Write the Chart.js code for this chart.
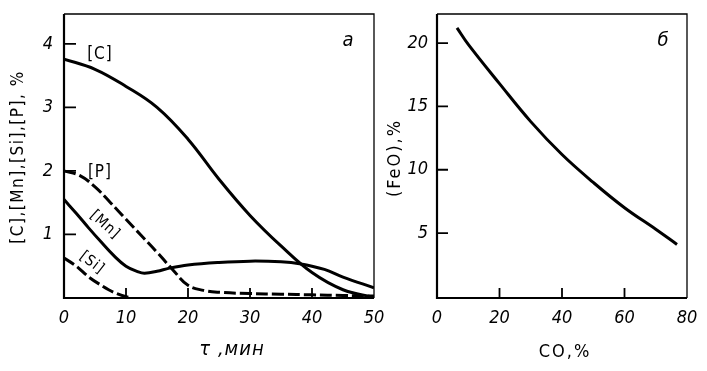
<!DOCTYPE html>
<html><head><meta charset="utf-8">
<script src="https://cdn.jsdelivr.net/npm/chart.js@4.4.0/dist/chart.umd.min.js"></script>
<style>
html,body{margin:0;padding:0;background:#fff;width:707px;height:371px;overflow:hidden}
#a{position:absolute;left:0;top:0;width:385px;height:371px}
#b{position:absolute;left:385px;top:0;width:322px;height:371px}
</style></head><body>
<div id="a"><canvas id="ca"></canvas></div>
<div id="b"><canvas id="cb"></canvas></div>
<script>
// ---- data, panel a ----
const timeTicks = [0, 10, 20, 30, 40, 50];
const leftYTicks = [1, 2, 3, 4];
const cTime = [0, 5, 10, 15, 20, 25, 30, 35, 40, 45, 50];
const cVals = [3.76, 3.6, 3.33, 3.0, 2.5, 1.87, 1.3, 0.82, 0.4, 0.13, 0.01];
const mnTime = [0, 2.5, 5, 7.5, 10, 12.5, 15, 17.5, 20, 22.5, 25, 30, 35, 40, 45, 50];
const mnVals = [2.0, 1.93, 1.75, 1.5, 1.24, 0.98, 0.72, 0.45, 0.2, 0.12, 0.09, 0.07, 0.06, 0.05, 0.04, 0.03];
const pTime = [0, 2, 4, 6, 8, 10, 12, 13, 15, 17, 20, 25, 30, 35, 38, 42, 45, 50];
const pVals = [1.55, 1.33, 1.1, 0.88, 0.67, 0.5, 0.41, 0.39, 0.42, 0.47, 0.52, 0.56, 0.58, 0.57, 0.54, 0.45, 0.33, 0.16];
const siTime = [0, 2, 4, 6, 8, 10, 11];
const siVals = [0.63, 0.5, 0.33, 0.2, 0.09, 0.02, 0];
// ---- data, panel б ----
const coTicks = [0, 20, 40, 60, 80];
const feoTicks = [5, 10, 15, 20];
const coVals = [6.4, 10, 20, 30, 40, 50, 60, 70, 76.8];
const feoVals = [21.2, 19.9, 16.8, 13.8, 11.2, 9.0, 7.0, 5.3, 4.1];

const pts = (xs, ys) => xs.map((x, i) => ({x: x, y: ys[i]}));
const LBL = "'DejaVu Sans Condensed','DejaVu Sans',sans-serif";
const TICKFONT = {family: LBL, size: 18, style: 'italic'};

function lineDs(xs, ys, dashed, mono) {
  const d = {data: pts(xs, ys), borderColor: '#000', borderWidth: 3, pointRadius: 0,
    fill: false, tension: 0.4, borderDash: dashed ? [12, 4] : [],
    borderCapStyle: 'butt'};
  if (mono) d.cubicInterpolationMode = 'monotone';
  return d;
}

function drawText(ctx, n, px, py) {
  ctx.save();
  ctx.translate(px, py);
  ctx.rotate((n.rot || 0) * Math.PI / 180);
  ctx.font = n.font;
  if ('letterSpacing' in ctx) ctx.letterSpacing = (n.ls || 0) + 'px';
  ctx.textAlign = 'center'; ctx.textBaseline = 'middle';
  ctx.fillText(n.t, 0, 0);
  ctx.restore();
}

function framePlugin(cfg) {
  return {
    id: 'frame',
    afterDraw(chart) {
      const ctx = chart.ctx, a = chart.chartArea, xs = chart.scales.x, ys = chart.scales.y;
      ctx.save();
      ctx.strokeStyle = '#000';
      ctx.lineWidth = 1.3;
      ctx.beginPath();
      ctx.moveTo(a.left, a.top); ctx.lineTo(a.right, a.top); ctx.lineTo(a.right, a.bottom);
      ctx.stroke();
      ctx.lineWidth = 2.2;
      ctx.beginPath();
      ctx.moveTo(a.left, a.top); ctx.lineTo(a.left, a.bottom); ctx.lineTo(a.right, a.bottom);
      ctx.stroke();
      ctx.lineWidth = 1.8;
      ctx.beginPath();
      cfg.xTicks.forEach(v => { const p = xs.getPixelForValue(v); ctx.moveTo(p, a.bottom); ctx.lineTo(p, a.bottom - 10); });
      cfg.yTicks.forEach(v => { const p = ys.getPixelForValue(v); ctx.moveTo(a.left, p); ctx.lineTo(a.left + cfg.yLen, p); });
      ctx.stroke();
      ctx.fillStyle = '#000';
      cfg.notes.forEach(n => drawText(ctx, n, xs.getPixelForValue(n.x), ys.getPixelForValue(n.y)));
      cfg.titles.forEach(n => drawText(ctx, n, n.px, n.py));
      ctx.restore();
    }
  };
}

function makeOpts(xMin, xMax, yMin, yMax, xT, yT, yW, padR, yPad) {
  return {
    responsive: true, maintainAspectRatio: false, animation: false,
    layout: {padding: {top: 14, right: padR, left: 0, bottom: 0}},
    plugins: {legend: {display: false}, tooltip: {enabled: false}},
    scales: {
      x: {type: 'linear', min: xMin, max: xMax,
        afterBuildTicks: s => { s.ticks = xT.map(v => ({value: v})); },
        afterFit: s => { s.height = 73; s.paddingLeft = 0; s.paddingRight = 0; },
        grid: {display: false, drawTicks: false}, border: {display: false},
        ticks: {color: '#000', font: TICKFONT, padding: 10, maxRotation: 0, autoSkip: false}},
      y: {type: 'linear', min: yMin, max: yMax,
        afterBuildTicks: s => { s.ticks = yT.map(v => ({value: v})); },
        afterFit: s => { s.width = yW; s.paddingTop = 0; s.paddingBottom = 0; },
        grid: {display: false, drawTicks: false}, border: {display: false},
        ticks: {color: '#000', font: TICKFONT, padding: yPad, autoSkip: false}}
    }
  };
}

new Chart(document.getElementById('ca'), {
  type: 'line',
  data: {datasets: [
    lineDs(cTime, cVals, false, false),
    lineDs(mnTime, mnVals, true, false),
    lineDs(pTime, pVals, false, false),
    lineDs(siTime, siVals, true, true)
  ]},
  options: makeOpts(0, 50, 0, 4.47, timeTicks, leftYTicks, 64, 11, 11),
  plugins: [framePlugin({
    xTicks: [10, 20, 30, 40], yTicks: leftYTicks, yLen: 12,
    notes: [
      {t: '[C]', x: 5.8, y: 3.83, font: '17px ' + LBL, ls: 1},
      {t: '[P]', x: 5.8, y: 1.98, font: '17px ' + LBL, ls: 1},
      {t: '[Mn]', x: 6.6, y: 1.15, rot: 42, font: '15px ' + LBL, ls: 1},
      {t: '[Si]', x: 4.5, y: 0.55, rot: 38, font: '15px ' + LBL, ls: 1},
      {t: 'a', x: 45.8, y: 4.05, font: 'italic 20px ' + LBL}
    ],
    titles: [
      {t: '[C],[Mn],[Si],[P], %', px: 19, py: 157, rot: -90, font: '17px ' + LBL, ls: 1.5},
      {t: 'τ ,мин', px: 232, py: 350, font: 'italic 20px ' + LBL, ls: 1}
    ]
  })]
});

new Chart(document.getElementById('cb'), {
  type: 'line',
  data: {datasets: [lineDs(coVals, feoVals, false, false)]},
  options: makeOpts(0, 80, -0.13, 22.3, coTicks, feoTicks, 52, 20, 9),
  plugins: [framePlugin({
    xTicks: [20, 40, 60], yTicks: feoTicks, yLen: 11,
    notes: [
      {t: 'б', x: 72.3, y: 20.2, font: 'italic 20px ' + LBL}
    ],
    titles: [
      {t: '(FeO),%', px: 10, py: 158, rot: -90, font: '18px ' + LBL, ls: 2},
      {t: 'CO,%', px: 180, py: 352, font: '18px ' + LBL, ls: 2}
    ]
  })]
});
</script>
</body></html>
